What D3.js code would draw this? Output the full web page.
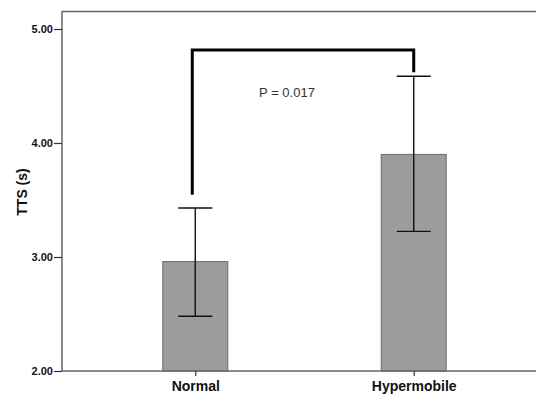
<!DOCTYPE html>
<html>
<head>
<meta charset="utf-8">
<script src="https://cdn.jsdelivr.net/npm/d3@7"></script>
<style>
  body { margin: 0; background: #fff; }
  svg { display: block; font-family: Arial, "Liberation Sans", sans-serif; }
</style>
</head>
<body>
<svg id="chart" width="536" height="396"></svg>
<script>
// data
const categories = ['Normal', 'Hypermobile'];
const means = [2.96, 3.90];
const errLow = [2.48, 3.225];
const errHigh = [3.43, 4.585];
const yTicks = [2.00, 3.00, 4.00, 5.00];
// significance bracket: left foot, top, right foot (in TTS units)
const bracket = [3.545, 4.815, 4.62];
const pLabel = 'P = 0.017';

const svg = d3.select('#chart');
const plotL = 62, plotR = 547, plotT = 11, plotB = 371;

const x = d3.scalePoint()
  .domain(categories)
  .range([plotL, plotR])
  .padding(0.61);

const y = d3.scaleLinear()
  .domain([2, 5])
  .range([plotB, 29]);

const barW = 65, capW = 34;

// frame top line
svg.append('line')
  .attr('x1', plotL).attr('x2', 536)
  .attr('y1', plotT + 0.5).attr('y2', plotT + 0.5)
  .attr('stroke', '#666').attr('stroke-width', 1.5);

// bars
svg.selectAll('.bar')
  .data(categories)
  .join('rect')
  .attr('class', 'bar')
  .attr('x', d => x(d) - barW / 2)
  .attr('y', (d, i) => y(means[i]))
  .attr('width', barW)
  .attr('height', (d, i) => y(2) - y(means[i]))
  .attr('fill', '#9c9c9c')
  .attr('stroke', '#6a6a6a')
  .attr('stroke-width', 1);

// error bars
const eb = svg.selectAll('.err')
  .data(categories)
  .join('g')
  .attr('class', 'err')
  .attr('stroke', '#111')
  .attr('stroke-width', 1.4);

eb.append('line')
  .attr('x1', d => x(d)).attr('x2', d => x(d))
  .attr('y1', (d, i) => y(errHigh[i]))
  .attr('y2', (d, i) => y(errLow[i]));
eb.append('line')
  .attr('x1', d => x(d) - capW / 2).attr('x2', d => x(d) + capW / 2)
  .attr('y1', (d, i) => y(errHigh[i])).attr('y2', (d, i) => y(errHigh[i]));
eb.append('line')
  .attr('x1', d => x(d) - capW / 2).attr('x2', d => x(d) + capW / 2)
  .attr('y1', (d, i) => y(errLow[i])).attr('y2', (d, i) => y(errLow[i]));

// y axis
const yAxis = svg.append('g')
  .attr('transform', `translate(${plotL},0)`)
  .call(d3.axisLeft(y).tickValues(yTicks).tickFormat(d3.format('.2f')).tickSize(8).tickPadding(1));
yAxis.select('.domain')
  .attr('d', `M0,${plotT}V${plotB}`)
  .attr('stroke', '#666').attr('stroke-width', 1.5);
yAxis.selectAll('.tick line').attr('stroke', '#333').attr('stroke-width', 1.2);
yAxis.selectAll('.tick text')
  .attr('fill', '#111')
  .attr('font-size', 11)
  .attr('font-weight', 'bold');

// x axis
const xAxis = svg.append('g')
  .attr('transform', `translate(0,${plotB})`)
  .call(d3.axisBottom(x).tickSize(5).tickPadding(5));
xAxis.select('.domain')
  .attr('d', `M${plotL},0H536`)
  .attr('stroke', '#666').attr('stroke-width', 1.5);
xAxis.selectAll('.tick line').attr('stroke', '#333').attr('stroke-width', 1.2);
xAxis.selectAll('.tick text')
  .attr('fill', '#111')
  .attr('font-size', 14)
  .attr('font-weight', 'bold');

// y title
svg.append('text')
  .attr('transform', 'translate(27,192) rotate(-90)')
  .attr('text-anchor', 'middle')
  .attr('font-size', 14)
  .attr('font-weight', 'bold')
  .attr('fill', '#111')
  .text('TTS (s)');

// significance bracket
const bx0 = x(categories[0]) - 3, bx1 = x(categories[1]);
svg.append('path')
  .attr('d', `M${bx0},${y(bracket[0])}V${y(bracket[1])}H${bx1}V${y(bracket[2])}`)
  .attr('fill', 'none')
  .attr('stroke', '#000')
  .attr('stroke-width', 3);

svg.append('text')
  .attr('x', 287)
  .attr('y', 97)
  .attr('text-anchor', 'middle')
  .attr('font-size', 13)
  .attr('fill', '#333')
  .text(pLabel);
</script>
</body>
</html>
